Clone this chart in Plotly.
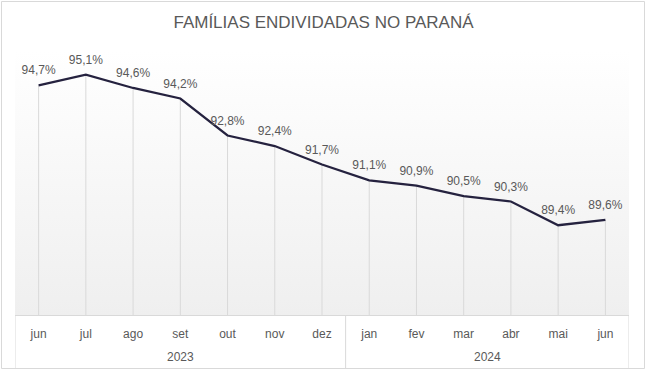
import base64
import plotly.graph_objects as go

months = ["jun", "jul", "ago", "set", "out", "nov", "dez", "jan", "fev", "mar", "abr", "mai", "jun"]
years = ["2023", "2024"]
year_counts = [7, 6]
values = [94.7, 95.1, 94.6, 94.2, 92.8, 92.4, 91.7, 91.1, 90.9, 90.5, 90.3, 89.4, 89.6]

Y_MIN, Y_MAX = 86.0, 96.0
W, H = 647, 370
ML, MR, MT, MB = 15, 18, 51, 55
PW, PH = W - ML - MR, H - MT - MB
GRAY = "#d9d9d9"
TXT = "#595959"
FONT = "Liberation Sans, Arial, sans-serif"

svg = (
    '<svg xmlns="http://www.w3.org/2000/svg" width="100" height="100" preserveAspectRatio="none">'
    '<defs><linearGradient id="g" x1="0" y1="0" x2="0" y2="1">'
    '<stop offset="0" stop-color="#ffffff"/><stop offset="1" stop-color="#efefef"/>'
    '</linearGradient></defs><rect width="100" height="100" fill="url(#g)"/></svg>'
)
bg_uri = "data:image/svg+xml;base64," + base64.b64encode(svg.encode()).decode()

idx = list(range(len(months)))

fig = go.Figure()
fig.add_trace(go.Scatter(
    x=idx, y=values, mode="markers",
    marker=dict(size=1, color="rgba(0,0,0,0)"),
    error_y=dict(type="data", symmetric=False, array=[0] * len(values),
                 arrayminus=[v - Y_MIN for v in values],
                 color=GRAY, thickness=1, width=0),
    hoverinfo="skip", showlegend=False,
))
fig.add_trace(go.Scatter(
    x=idx, y=values, mode="lines+markers+text",
    line=dict(color="#25223f", width=2.25),
    marker=dict(size=11, color="rgba(0,0,0,0)"),
    text=values, texttemplate="%{y:.1f}%", textposition="top center",
    textfont=dict(family=FONT, size=12, color=TXT),
    showlegend=False,
))

# year group labels and dividers
shapes = []
annotations = []
start = 0
bottom = -(H - 1.5 - MT - PH) / PH
for yr, n in zip(years, year_counts):
    annotations.append(dict(x=start + (n - 1) / 2, y=-(357 - (MT + PH)) / PH, xref="x", yref="paper",
                            text=yr, showarrow=False, yanchor="middle",
                            font=dict(family=FONT, size=12, color=TXT)))
    shapes.append(dict(type="line", xref="x", yref="paper", x0=start - 0.5, x1=start - 0.5,
                       y0=0, y1=bottom, line=dict(color=GRAY, width=1)))
    start += n
shapes.append(dict(type="line", xref="x", yref="paper", x0=start - 0.5, x1=start - 0.5,
                   y0=0, y1=bottom, line=dict(color=GRAY, width=1)))
shapes.append(dict(type="rect", xref="paper", yref="paper",
                   x0=(1.5 - ML) / PW, x1=(644.5 - ML) / PW,
                   y0=bottom, y1=1 + (MT - 1.5) / PH,
                   line=dict(color=GRAY, width=1), fillcolor="rgba(0,0,0,0)"))

fig.update_layout(
    width=W, height=H,
    margin=dict(l=ML, r=MR, t=MT, b=MB),
    paper_bgcolor="white", plot_bgcolor="rgba(0,0,0,0)",
    separators=",.",
    hovermode=False,
    title=dict(text="FAMÍLIAS ENDIVIDADAS NO PARANÁ", x=0.5, xanchor="center",
               y=1 - 22 / H, yanchor="middle",
               font=dict(family=FONT, size=17, color=TXT)),
    xaxis=dict(range=[-0.5, len(months) - 0.5], tickvals=idx, ticktext=months,
               showgrid=False, zeroline=False, showline=True, linecolor=GRAY, linewidth=1,
               ticks="", ticklabelstandoff=8, automargin=False, fixedrange=True,
               tickfont=dict(family=FONT, size=12, color=TXT)),
    yaxis=dict(range=[Y_MIN, Y_MAX], visible=False, showgrid=False, zeroline=False, fixedrange=True),
    images=[dict(source=bg_uri, xref="paper", yref="paper", x=0, y=1, sizex=1, sizey=1,
                 sizing="stretch", layer="below", xanchor="left", yanchor="top")],
    shapes=shapes,
    annotations=annotations,
)

fig.write_html("out.html",
               config={"displayModeBar": False},
               post_script="document.body.style.margin='0';document.body.style.overflow='hidden';")
